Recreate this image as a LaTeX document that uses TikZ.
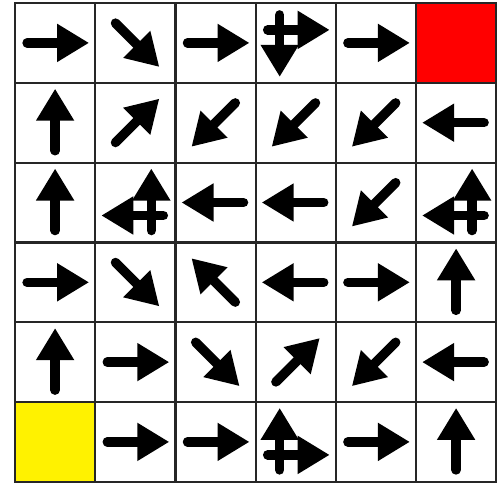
\documentclass[tikz,border=0pt]{standalone}
\usetikzlibrary{arrows.meta}
\begin{document}
\begin{tikzpicture}[x=1pt,y=-1pt,
  gridline/.style={line width=2.2pt, draw=black!85},
  arr/.style={line width=9.5pt, line cap=round, -{Triangle[length=32pt,width=36pt]}},
]
\useasboundingbox (0,0) rectangle (503,485);
\def\cw{80.2}\def\ch{79.8}\def\gx{15}\def\gy{3}
% coloured cells
\fill[red] (\gx+5*\cw,\gy) rectangle ++(\cw,\ch);
\fill[yellow] (\gx,\gy+5*\ch) rectangle ++(\cw,\ch);
% grid
\foreach \i in {0,...,6}{
  \draw[gridline] (\gx+\i*\cw,\gy-1) -- (\gx+\i*\cw,\gy+6*\ch+1);
  \draw[gridline] (\gx-1,\gy+\i*\ch) -- (\gx+6*\cw+1,\gy+\i*\ch);
}
% arrows: row/col/offset x/offset y/unit x/unit y (pixel axes, y downward)
\foreach \r/\c/\ox/\oy/\ux/\uy in {
  0/0/0/0/1/0, 0/1/0/0/0.7071/0.7071, 0/2/0/0/1/0, 0/3/0/-13/1/0, 0/3/-16/0/0/1, 0/4/0/0/1/0,
  1/0/0/0/0/-1, 1/1/0/0/0.7071/-0.7071, 1/2/0/0/-0.7071/0.7071, 1/3/0/0/-0.7071/0.7071, 1/4/0/0/-0.7071/0.7071, 1/5/0/0/-1/0,
  2/0/0/0/0/-1, 2/1/0/13/-1/0, 2/1/16/0/0/-1, 2/2/0/0/-1/0, 2/3/0/0/-1/0, 2/4/0/0/-0.7071/0.7071, 2/5/0/13/-1/0, 2/5/16/0/0/-1,
  3/0/0/0/1/0, 3/1/0/0/0.7071/0.7071, 3/2/0/0/-0.7071/-0.7071, 3/3/0/0/-1/0, 3/4/0/0/1/0, 3/5/0/0/0/-1,
  4/0/0/0/0/-1, 4/1/0/0/1/0, 4/2/0/0/0.7071/0.7071, 4/3/0/0/0.7071/-0.7071, 4/4/0/0/-0.7071/0.7071, 4/5/0/0/-1/0,
  5/1/0/0/1/0, 5/2/0/0/1/0, 5/3/0/13/1/0, 5/3/-16/0/0/-1, 5/4/0/0/1/0, 5/5/0/0/0/-1}{
  \pgfmathsetmacro{\cx}{\gx+(\c+0.5)*\cw+\ox}
  \pgfmathsetmacro{\cy}{\gy+(\r+0.5)*\ch+\oy}
  \coordinate (t) at ({\cx-28*\ux},{\cy-28*\uy});
  \coordinate (h) at ({\cx+34*\ux},{\cy+34*\uy});
  \draw[arr] (t) -- (h);
}
\end{tikzpicture}
\end{document}
